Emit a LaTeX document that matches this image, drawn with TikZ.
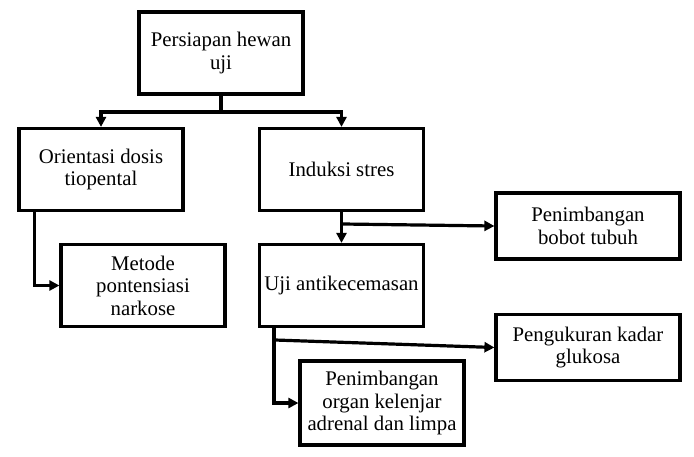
\documentclass[tikz,border=0pt]{standalone}
\usepackage{fontspec}
\setmainfont{Liberation Serif}
\usetikzlibrary{arrows.meta}
\begin{document}
\begin{tikzpicture}[x=0.5pt,y=-0.5pt,
    caja/.style={draw, line width=1.6pt, align=center, inner sep=0pt,
        minimum width=82pt, minimum height=41pt,
        font=\fontsize{10.4}{11.2}\selectfont},
    linea/.style={line width=1.6pt},
    flecha/.style={line width=1.6pt, -{Triangle[length=5pt,width=5pt]}}]
    \useasboundingbox (0,0) rectangle (694,456);

    % Cajas
    \node[caja] (persiapan) at (221,53) {Persiapan hewan\\uji};
    \node[caja] (orientasi) at (101,169.5) {Orientasi dosis\\tiopental};
    \node[caja] (induksi) at (341.5,169.5) {Induksi stres};
    \node[caja] (metode) at (143,285.5) {Metode\\pontensiasi\\narkose};
    \node[caja] (uji) at (341.5,285.5) {Uji antikecemasan};
    \node[caja, minimum width=92pt, minimum height=33pt] (bobot) at (588,226) {Penimbangan\\bobot tubuh};
    \node[caja, minimum width=92pt, minimum height=33pt] (glukosa) at (588,347.5) {Pengukuran kadar\\glukosa};
    \node[caja, minimum height=42pt] (organ) at (382,403) {Penimbangan\\organ kelenjar\\adrenal dan limpa};

    % Puntos de cruce
    \coordinate (cruce) at (221,112);
    \coordinate (rama1) at (343,224);
    \coordinate (rama2) at (275,340);

    % Flechas
    \draw[linea] (persiapan.south) -- (cruce);
    \draw[flecha] (cruce) -| (orientasi.north);
    \draw[flecha] (cruce) -| (induksi.north);
    \draw[flecha] ([xshift=8.5pt]orientasi.south west) |- (metode.west);
    \draw[flecha] (induksi.south) -- (uji.north);
    \draw[flecha] (rama1) -- (bobot.west);
    \draw[flecha] ([xshift=8pt]uji.south west) |- (organ.west);
    \draw[flecha] (rama2) -- (glukosa.west);
\end{tikzpicture}
\end{document}
